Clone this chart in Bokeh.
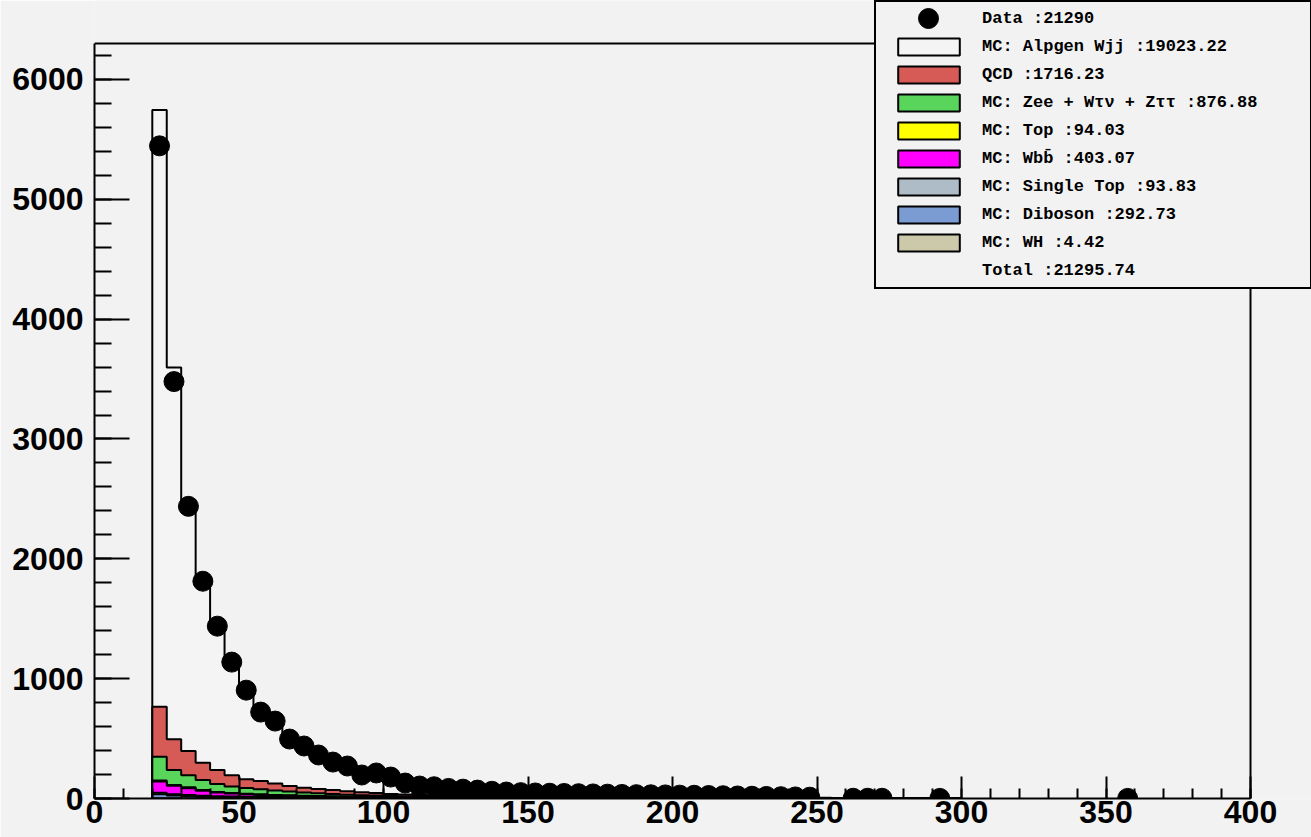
import numpy as np
from bokeh.plotting import figure
from bokeh.models import (Legend, LegendItem, Range1d, SingleIntervalTicker)
from bokeh.embed import file_html
from bokeh.resources import INLINE

# ---------------- data (bins of 5 GeV from 20 to 300) ----------------
bin_start = 20
bin_width = 5
n_bins = 56
x_max = 400      # axis limits of the ROOT frame
y_max = 6300

wh = [0.6, 0.4, 0.3, 0.3, 0.2, 0.2, 0.2, 0.2, 0.2, 0.2,
      0.1, 0.1, 0.1, 0.1, 0.1, 0.1, 0.1, 0.1, 0.1, 0.1] + [0] * 36
diboson = [35, 25, 20, 16, 13, 11, 10, 9, 8, 7, 7, 6, 5, 5, 4, 4, 3, 3, 3, 2,
           2, 2, 2, 2, 1, 1, 1, 1, 1, 1, 1, 0.5] + [0.5] * 14 + [0] * 10
single_top = [12, 10, 8, 7, 6, 5, 5, 4, 4, 4, 3, 3, 3, 2, 2, 2, 2, 2, 1, 1,
              1, 1, 1, 1, 1, 1, 0.5, 0.5, 0.5, 0.5, 0.5, 0.3] + [0.2] * 14 + [0] * 10
wbb = [95, 70, 58, 42, 30, 25, 20, 17, 13, 11, 9, 8, 7, 6, 5, 4, 4, 3, 3, 2,
       2, 2, 1, 1, 1, 1, 1, 1, 0.5, 0.5, 0.5, 0.5] + [0.3] * 14 + [0] * 10
top = [8, 8, 7, 6, 5, 5, 5, 5, 5, 5, 4, 4, 4, 3, 3, 3, 2, 2, 2, 2,
       1, 1, 1, 1, 1, 1, 1, 0.5, 0.5, 0.5, 0.5, 0.3] + [0.3] * 14 + [0] * 10
zee = [198, 125, 100, 83, 67, 53, 48, 41, 36, 31, 27, 22, 19, 16, 14, 12, 10, 9, 8, 7,
       6, 5, 5, 4, 4, 3, 3, 3, 2, 2, 2, 2] + [1.5] * 14 + [0] * 10
qcd = [417, 255, 203, 144, 117, 94, 72, 70, 60, 46, 40, 36, 32, 28, 24, 20, 17, 14, 12, 10,
       9, 8, 7, 6, 5, 5, 4, 4, 3, 3, 3, 2] + [1.5] * 14 + [0] * 10
wjj = [4980, 3103, 2044, 1540, 1208, 961, 744, 579, 524, 401, 355, 286, 235, 212, 163,
       155, 134, 107, 83, 76, 65, 58, 51, 45, 42, 38, 36, 34, 34, 33, 31, 30,
       30, 28, 27, 26, 24, 23, 21, 19, 17, 15, 13, 11, 9, 8,
       6, 4, 3, 3, 2, 1, 1, 1, 1, 0.5]

data_counts = [5446, 3479, 2438, 1813, 1438, 1138, 904, 721, 646, 496, 438, 363, 304,
               271, 196, 213, 179, 129, 104, 98, 84, 78, 70, 60, 54, 49, 46, 44, 42,
               40, 38, 36, 34, 32, 31, 30, 28, 27, 25, 23, 21, 19, 17, 15, 13, 11]
data_extra_x = [262.5, 267.5, 272.5, 292.5, 357.5]
data_extra_y = [2, 2, 2, 1, 1]

labels = {
    "data": "Data :21290",
    "wjj": "MC: Alpgen Wjj :19023.22",
    "qcd": "QCD :1716.23",
    "zee": "MC: Zee + W\u03c4\u03bd + Z\u03c4\u03c4 :876.88",
    "top": "MC: Top :94.03",
    "wbb": "MC: Wbb\u0304 :403.07",
    "stop": "MC: Single Top :93.83",
    "dib": "MC: Diboson :292.73",
    "wh": "MC: WH :4.42",
    "total": "Total :21295.74",
}

BG = "#f2f2f2"
colors = {
    "wjj": "#f4f4f4", "qcd": "#d65b56", "zee": "#58d55a", "top": "#ffff00",
    "wbb": "#ff00ff", "stop": "#aebcc8", "dib": "#7b9bd3", "wh": "#ccc8aa",
}

# ---------------- figure ----------------
# The plotting frame spans the whole area right of / above the axes so that the
# legend (which sticks out of the ROOT frame) is not clipped; the visible
# ROOT frame is the axis range 0..x_max, 0..y_max.
W, H = 1311, 837
left, bottom = 94, 39
frame_w_px, frame_h_px = 1156, 755     # size of the 0..x_max / 0..y_max box
p = figure(width=W, height=H,
           x_range=Range1d(0, x_max * (W - left) / frame_w_px),
           y_range=Range1d(0, y_max * (H - bottom) / frame_h_px),
           output_backend="svg", toolbar_location=None,
           min_border_left=left, min_border_top=0, min_border_right=0,
           min_border_bottom=bottom)
p.background_fill_color = BG
p.border_fill_color = BG
p.outline_line_color = None
p.xgrid.visible = False
p.ygrid.visible = False

# top and right edges of the ROOT frame
p.segment(x0=[0, x_max], y0=[y_max, 0], x1=[x_max, x_max], y1=[y_max, y_max],
          line_color="black", line_width=2)

edges = bin_start + bin_width * np.arange(n_bins + 1)

# stack from bottom: wh, dib, stop, wbb, top, zee, qcd, wjj
order = [("wh", wh), ("dib", diboson), ("stop", single_top), ("wbb", wbb),
         ("top", top), ("zee", zee), ("qcd", qcd), ("wjj", wjj)]
cum = np.zeros(n_bins)
cums = {}
for key, vals in order:
    cum = cum + np.array(vals, dtype=float)
    cums[key] = cum.copy()


def step_poly(c):
    xs = [edges[0]]
    ys = [0.0]
    for i in range(n_bins):
        xs += [edges[i], edges[i + 1]]
        ys += [c[i], c[i]]
    xs.append(edges[-1])
    ys.append(0.0)
    return xs, ys


renderers = {}
for key, _ in reversed(order):
    xs, ys = step_poly(cums[key])
    renderers[key] = p.patch(xs, ys, fill_color=colors[key], line_color="black",
                             line_width=2)

centers = edges[:len(data_counts)] + bin_width / 2
dx = list(centers) + data_extra_x
dy = list(data_counts) + data_extra_y
renderers["data"] = p.scatter(dx, dy, size=20, color="black", marker="circle")

dummy = p.scatter(x=[], y=[], size=1, alpha=0)

# ---------------- axes ----------------
for ax in (p.xaxis[0], p.yaxis[0]):
    ax.axis_line_color = "black"
    ax.axis_line_width = 2
    ax.major_tick_line_color = "black"
    ax.major_tick_line_width = 2
    ax.minor_tick_line_color = "black"
    ax.minor_tick_line_width = 2
    ax.major_tick_out = 0
    ax.minor_tick_out = 0
    ax.major_label_text_font = "Liberation Sans"
    ax.major_label_text_font_style = "bold"
    ax.major_label_text_color = "black"
    ax.major_label_text_font_size = "32px"

p.xaxis.bounds = (0, x_max)
p.yaxis.bounds = (0, y_max)
p.xaxis.ticker = SingleIntervalTicker(interval=50, num_minor_ticks=5)
p.yaxis.ticker = SingleIntervalTicker(interval=1000, num_minor_ticks=5)
p.xaxis.major_tick_in = 22
p.xaxis.minor_tick_in = 10
p.yaxis.major_tick_in = 35
p.yaxis.minor_tick_in = 17
p.xaxis.major_label_standoff = 2
p.yaxis.major_label_standoff = 11

# ---------------- legend ----------------
frame_left = left
frame_bottom = H - bottom

box = Legend(items=[LegendItem(label=" ", renderers=[dummy])],
             location=(874 - frame_left, frame_bottom - 289), padding=0, margin=0,
             spacing=0, glyph_width=1, glyph_height=1, label_standoff=0,
             label_width=433, label_height=285,
             border_line_color="black", border_line_width=2, border_line_alpha=1.0,
             background_fill_color=BG, background_fill_alpha=1.0)
p.add_layout(box)

font_kw = dict(label_text_font="Liberation Mono", label_text_font_style="bold",
               label_text_font_size="17px", label_text_color="black")

items = [LegendItem(label=labels[k], renderers=[renderers[k]])
         for k in ["wjj", "qcd", "zee", "top", "wbb", "stop", "dib", "wh"]]
items.append(LegendItem(label=labels["total"], renderers=[dummy]))
leg = Legend(items=items, location=(890 - frame_left, frame_bottom - 281), padding=0,
             margin=0, spacing=7, glyph_width=77, glyph_height=21,
             label_height=21, label_standoff=15,
             border_line_alpha=0, background_fill_alpha=0, **font_kw)
p.add_layout(leg)

leg_data = Legend(items=[LegendItem(label=labels["data"], renderers=[renderers["data"]])],
                  location=(903 - frame_left, frame_bottom - 43), padding=0, margin=0,
                  glyph_width=50, glyph_height=50, label_standoff=29,
                  border_line_alpha=0, background_fill_alpha=0, **font_kw)
p.add_layout(leg_data)

open("out.html", "w").write(file_html(p, INLINE))
